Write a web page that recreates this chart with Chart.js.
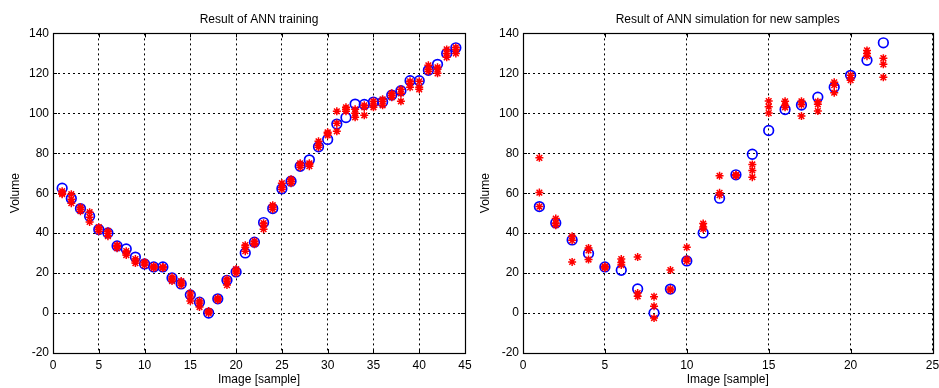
<!DOCTYPE html>
<html>
<head>
<meta charset="utf-8">
<script src="https://cdn.jsdelivr.net/npm/chart.js@4/dist/chart.umd.min.js"></script>
<style>
  html,body{margin:0;padding:0;background:#fff;}
  #wrap{position:relative;width:939px;height:388px;overflow:hidden;}
  .box{position:absolute;top:0;height:388px;}
</style>
</head>
<body>
<div id="wrap">
  <div class="box" style="left:0;width:485px;"><canvas id="c1"></canvas></div>
  <div class="box" style="left:470px;width:469px;"><canvas id="c2"></canvas></div>
</div>
<script>
// ---------- DATA ----------
const trainTitle = "Result of ANN training";
const newTitle = "Result of ANN simulation for new samples";
const xLabel = "Image [sample]";
const yLabel = "Volume";

// Training set: targets (blue circles)
const trainTarget = [62.5,57.3,52.3,48.5,41.8,40.1,33.6,32.1,28,24.6,
  23.1,23.1,17.6,14.6,9.1,5.4,0,7.1,16.4,20.6,
  30.1,35.5,45.3,52.3,62.2,66,73.5,76.7,83.2,86.9,
  94.6,97.9,104.6,104.4,105.6,105.6,109.1,111.3,116.3,116.3,
  121.5,124.5,130,132.8];
// Training set: ANN outputs (red asterisks), several runs
const trainOutA = [60,59.5,52,50.5,43,40,34,31,27,25,
  23,23,18,16,10,6,1,7,17,21,
  33,35,45,54,65,67,75,75,86,90,
  101,103,102,104,104,107,110,112,116,116,
  124,123,132,133];
const trainOutB = [59.5,55,51,45.6,41,38.5,32.5,29,25,24,
  22.5,22.5,16,14,6,3,0,7.5,14,20,
  34,36,42,52,62,65,73,73.5,83,89,
  91,101,98,99,103,104,108,106,113,112,
  121,120,128,130];
const trainOutC = [61,57,53,48,42,41,33.5,30,26,25.5,
  23.5,23,17,15,8,5,0.5,6.5,16,22,
  31,34.5,44,53,63,66,74,74.5,84,90.5,
  95,102,100,103,106,106,109,110,115,113,
  122,122,130,132];

// New samples: targets (blue circles)
const newTarget = [53.3,45.1,36.6,29.8,23.1,21.4,12.1,0,12,26.1,
  40.1,57.5,69.2,79.5,91.4,101.9,104.1,108.1,113.1,119,
  126.5,135.3];
// New samples: ANN outputs (red asterisks)
const newOutA = [77.7,47.3,38.4,32.6,23,27,28,8.2,21.5,32.9,
  44.8,68.7,69.2,74.4,106.1,106,106,105.8,115.5,119.1,
  131.5,127.6];
const newOutB = [60.3,45,36.4,31.4,22.6,25.3,10,3.4,12,27,
  43.1,60.2,68.7,71.4,103.3,104,104.3,101.1,114.1,117.8,
  130,124.5];
const newOutC = [53.3,44,25.6,26.8,23.4,24,8.4,-2.5,11.5,26,
  42.1,59,69,68,100.1,103,98.6,104.5,110.3,116.6,
  128.6,118];

// ---------- CHART ----------
const FONT = "'Liberation Sans', Arial, Helvetica, sans-serif";
Chart.defaults.font.family = FONT;
Chart.defaults.font.size = 12;
Chart.defaults.color = '#000';

function pts(arr){ return arr.map((v,i)=>({x:i+1,y:v})); }

const boxPlugin = {
  id:'boxPlugin',
  afterDatasetsDraw(chart){
    const {ctx, chartArea:a, scales} = chart;
    ctx.save();
    ctx.strokeStyle = '#000';
    ctx.lineWidth = 1;
    ctx.setLineDash([]);
    const tl = 4;
    scales.x.ticks.forEach(t=>{
      const px = Math.round(scales.x.getPixelForValue(t.value))+0.5;
      ctx.beginPath();
      ctx.moveTo(px,a.bottom); ctx.lineTo(px,a.bottom-tl);
      ctx.moveTo(px,a.top); ctx.lineTo(px,a.top+tl);
      ctx.stroke();
    });
    scales.y.ticks.forEach(t=>{
      const py = Math.round(scales.y.getPixelForValue(t.value))+0.5;
      ctx.beginPath();
      ctx.moveTo(a.left,py); ctx.lineTo(a.left+tl,py);
      ctx.moveTo(a.right,py); ctx.lineTo(a.right-tl,py);
      ctx.stroke();
    });
    ctx.lineWidth = 1.2;
    ctx.strokeRect(Math.round(a.left)+0.5, Math.round(a.top)+0.5,
      Math.round(a.right-a.left), Math.round(a.bottom-a.top));
    ctx.restore();
  }
};

function makeChart(id, title, target, outs, xMax, rightPad){
  const datasets = [];
  outs.forEach((o,k)=>{
    datasets.push({
      label:'ANN output '+(k+1), data:pts(o), order:0,
      pointStyle:'star', pointRadius:4, pointBorderWidth:1.5,
      pointBorderColor:'#ff0000', pointBackgroundColor:'#ff0000',
      showLine:false
    });
  });
  datasets.push({
    label:'Target', data:pts(target), order:1,
    pointStyle:'circle', pointRadius:4.8, pointBorderWidth:1.7,
    pointBorderColor:'#0000ff', pointBackgroundColor:'rgba(0,0,0,0)',
    showLine:false
  });
  const grid = {color:'#000', lineWidth:1, drawTicks:false};
  return new Chart(document.getElementById(id), {
    type:'scatter',
    data:{datasets},
    options:{
      responsive:true, maintainAspectRatio:false, animation:false,
      layout:{padding:{left:0,right:rightPad,top:0,bottom:0}},
      plugins:{
        legend:{display:false},
        tooltip:{enabled:false},
        title:{display:true, text:title, fullSize:false,
          font:{size:12, weight:'normal', family:FONT}, color:'#000',
          padding:{top:12,bottom:7}}
      },
      scales:{
        x:{type:'linear', min:0, max:xMax,
          ticks:{stepSize:5, padding:5, color:'#000', font:{size:12}},
          grid:{...grid},
          border:{display:false, dash:[2,3]},
          title:{display:true, text:xLabel, color:'#000', font:{size:12}, padding:{top:0,bottom:1}},
          afterFit(s){ s.height = 35; s.paddingLeft = 0; s.paddingRight = 0; }
        },
        y:{type:'linear', min:-20, max:140,
          ticks:{stepSize:20, padding:4, color:'#000', font:{size:12}},
          grid:{...grid},
          border:{display:false, dash:[2,3]},
          title:{display:true, text:yLabel, color:'#000', font:{size:12}, padding:{top:8,bottom:0}},
          afterFit(s){ s.width = 53; s.paddingTop = 0; s.paddingBottom = 0; }
        }
      }
    },
    plugins:[boxPlugin]
  });
}

makeChart('c1', trainTitle, trainTarget, [trainOutA, trainOutB, trainOutC], 45, 20);
makeChart('c2', newTitle, newTarget, [newOutA, newOutB, newOutC], 25, 6);
</script>
</body>
</html>
